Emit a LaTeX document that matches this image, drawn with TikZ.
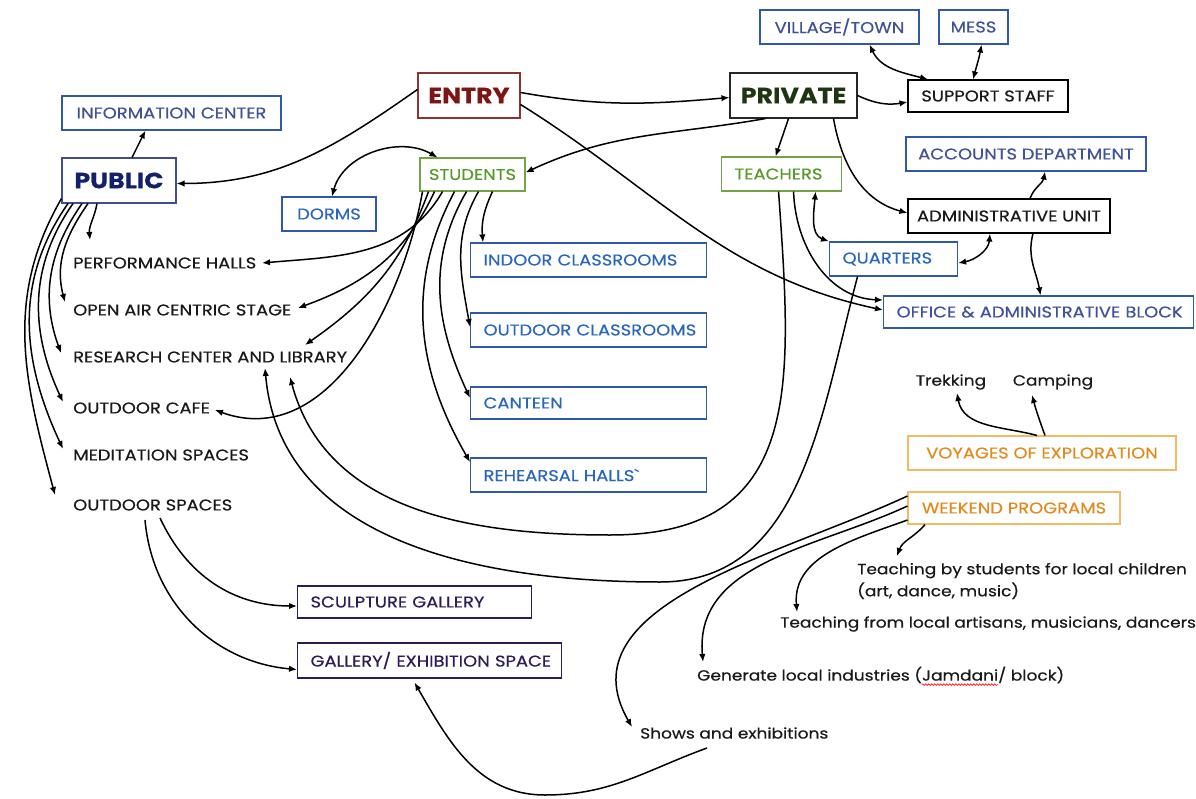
\documentclass[tikz,border=0pt]{standalone}
\usepackage{fontspec}
\setmainfont{Poppins}
\newfontfamily\widefont{Poppins}[FakeStretch=1.15,FakeBold=0.4]
\usetikzlibrary{arrows.meta,decorations.pathmorphing}
\definecolor{infoblue}{HTML}{3F5299}
\definecolor{boxblue}{HTML}{2A66BE}
\definecolor{edgeblue}{HTML}{2F58A8}
\definecolor{pubnavy}{HTML}{13206B}
\definecolor{entryred}{HTML}{7E1414}
\definecolor{entryedge}{HTML}{8B3434}
\definecolor{privgreen}{HTML}{1E3512}
\definecolor{leafgreen}{HTML}{589A28}
\definecolor{leafedge}{HTML}{73A24A}
\definecolor{tripor}{HTML}{E38A1E}
\definecolor{tripedge}{HTML}{F1BB66}
\definecolor{galpurple}{HTML}{2F1C57}
\newcommand\capsfont{\widefont\fontsize{15.6}{19}\selectfont}
\newcommand\headfont{\widefont\bfseries\fontsize{22}{26}\selectfont}
\newcommand\notefont{\widefont\fontsize{14.8}{22}\selectfont}
\newlength\wavegap
\newlength\wavelen
\begin{document}
\settowidth\wavegap{\notefont Generate local industries (}
\settowidth\wavelen{\notefont Jamdani}
\begin{tikzpicture}[
  x=1pt,y=-1pt,
  cbox/.style={draw,line width=1.1pt,font=\capsfont,minimum height=34pt,inner sep=0pt},
  lbox/.style={draw,line width=1.1pt,font=\capsfont,minimum height=34pt,inner xsep=13pt,inner ysep=0pt,anchor=west,align=left,text width=#1,
    execute at begin node=\hbox\bgroup,execute at end node=\egroup},
  head/.style={draw,line width=1.1pt,font=\headfont,minimum height=45pt,inner sep=0pt},
  item/.style={font=\capsfont,anchor=west,inner sep=0pt,text=black!90},
  note/.style={font=\notefont,anchor=west,inner sep=0pt,text=black!90,align=left},
  conn/.style={-{Latex[length=8pt,width=6.5pt]},line width=1.5pt},
  dconn/.style={{Latex[length=8pt,width=6.5pt]}-{Latex[length=8pt,width=6.5pt]},line width=1.5pt},
  spell/.style={red,line width=0.6pt,decorate,decoration={snake,amplitude=0.9pt,segment length=3pt}}
]
  \fill[white] (0,0) rectangle (1196,799);
  \useasboundingbox (0,0) rectangle (1196,799);
  \node[cbox,draw=edgeblue,text=infoblue,minimum width=219pt] (info) at (171.5,113) {INFORMATION CENTER};
  \node[head,draw=pubnavy!80,text=pubnavy,minimum width=114pt] (pub) at (119,180.5) {PUBLIC};
  \node[head,draw=entryedge,text=entryred,minimum width=102pt] (entry) at (469,95.5) {ENTRY};
  \node[head,draw=black!85,text=privgreen,minimum width=127pt] (priv) at (793.5,95.5) {PRIVATE};
  \node[cbox,draw=edgeblue,text=infoblue,minimum width=159pt] (vill) at (839.5,27) {VILLAGE/TOWN};
  \node[cbox,draw=edgeblue,text=infoblue,minimum width=69pt] (mess) at (973.5,27) {MESS};
  \node[cbox,draw=black,text=black!90,minimum width=160pt,minimum height=32pt] (supp) at (988,96) {SUPPORT STAFF};
  \node[cbox,draw=edgeblue,text=infoblue,minimum width=240pt] (acct) at (1026,154) {ACCOUNTS DEPARTMENT};
  \node[cbox,draw=black,text=black!90,minimum width=202pt] (admin) at (1009,216) {ADMINISTRATIVE UNIT};
  \node[lbox=94pt,draw=leafedge,text=leafgreen] (teach) at (721,174) {TEACHERS};
  \node[lbox=102pt,draw=edgeblue,text=boxblue] (quart) at (829,259) {QUARTERS};
  \node[lbox=284pt,draw=edgeblue,text=infoblue,minimum height=32pt] (office) at (883,312) {OFFICE \& ADMINISTRATIVE BLOCK};
  \node[cbox,draw=leafedge,text=leafgreen,minimum width=105pt,minimum height=33pt] (stud) at (472.5,174.5) {STUDENTS};
  \node[cbox,draw=edgeblue,text=boxblue,minimum width=94pt] (dorms) at (329,214) {DORMS};
  \node[lbox=210pt,draw=edgeblue,text=boxblue] (indoor) at (470,260) {INDOOR CLASSROOMS};
  \node[lbox=210pt,draw=edgeblue,text=boxblue] (outcls) at (470,330) {OUTDOOR CLASSROOMS};
  \node[lbox=210pt,draw=edgeblue,text=boxblue,minimum height=32pt] (canteen) at (470,403) {CANTEEN};
  \node[lbox=210pt,draw=edgeblue,text=boxblue] (rehearsal) at (470,475) {REHEARSAL HALLS\textasciigrave};
  \node[item] (perf) at (73,263) {PERFORMANCE HALLS};
  \node[item] (openair) at (73,310) {OPEN AIR CENTRIC STAGE};
  \node[item] (research) at (73,357) {RESEARCH CENTER AND LIBRARY};
  \node[item] (cafe) at (73,408) {OUTDOOR CAFE};
  \node[item] (medit) at (73,455) {MEDITATION SPACES};
  \node[item] (outsp) at (73,505) {OUTDOOR SPACES};
  \node[lbox=208pt,draw=galpurple,text=galpurple,minimum height=32pt] (sculpt) at (297,602) {SCULPTURE GALLERY};
  \node[lbox=238pt,draw=galpurple,text=galpurple,minimum height=35pt] (gallery) at (297,660.5) {GALLERY/ EXHIBITION SPACE};
  \node[note,anchor=center] (trek) at (951,382) {Trekking};
  \node[note,anchor=center] (camp) at (1053,382) {Camping};
  \node[cbox,draw=tripedge,text=tripor,minimum width=268pt] (voy) at (1042,453) {VOYAGES OF EXPLORATION};
  \node[cbox,draw=tripedge,text=tripor,minimum width=212pt,minimum height=32pt] (week) at (1014,508) {WEEKEND PROGRAMS};
  \node[note] (tbs) at (857,581) {Teaching by students for local children\\(art, dance, music)};
  \node[note] (tfl) at (780,624) {Teaching from local artisans, musicians, dancers};
  \node[note] (gen) at (697,675) {Generate local industries (Jamdani/ block)};
  \node[note] (shows) at (640,733) {Shows and exhibitions};
  \draw[spell] ([xshift=\wavegap,yshift=-4pt]gen.base west) -- ++(\wavelen,0pt);
  \draw[conn] ([yshift=6pt]entry.west) to[out=215,in=0] ([yshift=-3pt]pub.east);
  \draw[conn] ([yshift=3pt]entry.east) to[out=-10,in=185] ([yshift=-2pt]priv.west);
  \draw[conn] ([yshift=-9pt]entry.east) to[out=-32,in=168] ([yshift=2pt]office.west);
  \draw[conn] ([xshift=13pt]pub.north) -- ([xshift=-26pt]info.south);
  \draw[conn] (priv.east) to[out=-25,in=190] ([yshift=-6pt]supp.west);
  \draw[dconn] ([xshift=30pt]vill.south) to[out=-65,in=165] ([xshift=-60pt]supp.north);
  \draw[dconn] ([xshift=8pt]mess.south) to[out=-100,in=75] ([xshift=-15pt]supp.north);
  \draw[conn] ([xshift=-28pt]priv.south) to[out=190,in=25] ([yshift=2pt]stud.east);
  \draw[conn] ([xshift=-5pt]priv.south) -- ([xshift=-6pt]teach.north);
  \draw[conn] ([xshift=40pt]priv.south) to[out=-80,in=165] ([yshift=3pt]admin.west);
  \draw[conn] ([xshift=21pt]admin.north) to[out=70,in=-100] ([xshift=19pt]acct.south);
  \draw[dconn] ([xshift=-19pt]admin.south) to[out=-95,in=10] ([yshift=-4pt]quart.east);
  \draw[conn] ([xshift=24pt]admin.south) to[out=-105,in=100] ([xshift=2pt]office.north);
  \draw[dconn] ([xshift=34pt]teach.south) to[out=-95,in=160] (quart.north west);
  \draw[conn] ([xshift=12pt]teach.south) to[out=-88,in=178] ([yshift=12pt]office.west);
  \draw[conn] ([xshift=-3pt]teach.south) to[out=-86,in=0,looseness=1.3] (610,535) to[out=180,in=-75] ([shift={(217pt,-20pt)}]research.west);
  \draw[conn] ([xshift=-36pt]quart.south) to[out=-105,in=0] (660,582) to[out=180,in=-85] ([shift={(192pt,-11pt)}]research.west);
  \draw[dconn] ([xshift=3pt]dorms.north) to[out=75,in=150] ([xshift=18pt]stud.north west);
  \draw[conn] ([xshift=20pt]stud.south) to[out=-115,in=95] ([xshift=13pt]indoor.north west);
  \draw[conn] ([xshift=6pt]stud.south) to[out=-120,in=100] ([yshift=3pt]outcls.west);
  \draw[conn] ([xshift=-6pt]stud.south) to[out=-120,in=115] ([yshift=5pt]canteen.west);
  \draw[conn] ([xshift=-18pt]stud.south) to[out=-118,in=120] ([yshift=13pt]rehearsal.west);
  \draw[conn] ([xshift=-30pt]stud.south) to[out=-120,in=5] ([xshift=189pt]perf.west);
  \draw[conn] ([xshift=-38pt]stud.south) to[out=-115,in=20] ([shift={(225pt,2pt)}]openair.west);
  \draw[conn] ([xshift=-44pt]stud.south) to[out=-110,in=35] ([shift={(232pt,12pt)}]research.west);
  \draw[conn] ([xshift=-50pt]stud.south) to[out=-100,in=-20] ([shift={(142pt,-2pt)}]cafe.west);
  \draw[conn] ([xshift=-22pt]pub.south) to[out=-100,in=95] ([shift={(17pt,23pt)}]perf.west);
  \draw[conn] ([xshift=-31pt]pub.south) to[out=-125,in=105] ([shift={(-8pt,8pt)}]openair.west);
  \draw[conn] ([xshift=-37pt]pub.south) to[out=-125,in=110] ([shift={(-12pt,4pt)}]research.west);
  \draw[conn] ([xshift=-46pt]pub.south) to[out=-125,in=115] ([shift={(-10pt,6pt)}]cafe.west);
  \draw[conn] ([xshift=-51pt]pub.south) to[out=-125,in=115] ([shift={(-10pt,6pt)}]medit.west);
  \draw[conn] ([yshift=5pt]pub.south west) to[out=-120,in=105] ([shift={(-18pt,10pt)}]outsp.west);
  \draw[conn] ([shift={(87pt,-13pt)}]outsp.west) to[out=-65,in=180] ([yshift=-4pt]sculpt.west);
  \draw[conn] ([shift={(72pt,-15pt)}]outsp.west) to[out=-85,in=175] ([yshift=-9pt]gallery.west);
  \draw[conn] ([shift={(67pt,-15pt)}]shows.west) to[out=-160,in=0] (545,795) to[out=180,in=-60] ([xshift=-15pt,yshift=-4pt]gallery.south);
  \draw[conn] ([xshift=-5pt]voy.north) to[out=165,in=-80] ([shift={(6pt,-11pt)}]trek.center);
  \draw[conn] ([xshift=3pt]voy.north) to[out=110,in=-75] ([shift={(-21pt,-13pt)}]camp.center);
  \draw[conn] ([xshift=-89pt]week.south) to[out=-130,in=70] ([shift={(40pt,25pt)}]tbs.west);
  \draw[conn] ([yshift=-12pt]week.west) to[out=200,in=95] ([shift={(17pt,12pt)}]tfl.west);
  \draw[conn] ([yshift=2pt]week.west) to[out=205,in=95] ([shift={(6pt,13pt)}]gen.west);
  \draw[conn] ([yshift=12pt]week.west) to[out=205,in=120] ([shift={(-8pt,6pt)}]shows.west);
\end{tikzpicture}
\end{document}
